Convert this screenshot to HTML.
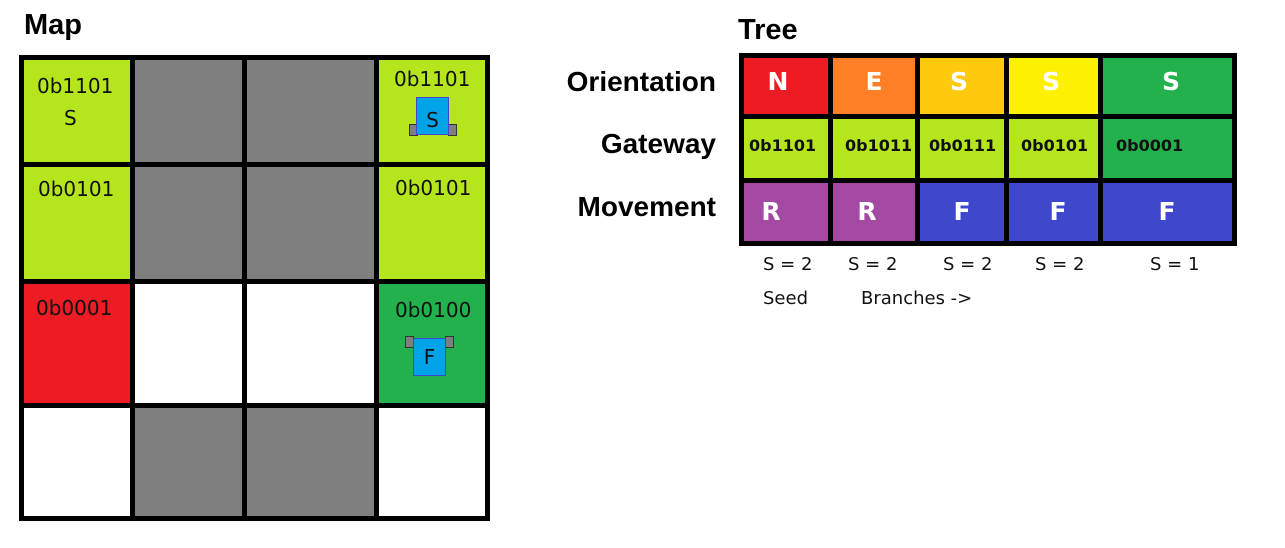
<!DOCTYPE html>
<html><head><style>
body{margin:0;width:1285px;height:548px;background:#fff;position:relative;overflow:hidden;font-family:"Liberation Sans",sans-serif}
.a{position:absolute}
.t{position:absolute;font-size:20px;color:#111;font-family:"DejaVu Sans","Liberation Sans",sans-serif}
.b{position:absolute;font-weight:bold;font-size:28px;color:#000}
.w{position:absolute;color:#fff;font-weight:bold;font-size:25px;text-align:center;font-family:"DejaVu Sans",sans-serif}
.g{position:absolute;font-weight:bold;font-size:16px;color:#111;font-family:"DejaVu Sans",sans-serif}
.s{position:absolute;font-size:18px;color:#111;font-family:"DejaVu Sans",sans-serif}
</style></head><body>
<div class="b" style="left:24px;top:9px;font-size:29px">Map</div>
<div class="b" style="left:738px;top:14px;font-size:29px">Tree</div>
<div class="a" style="left:19px;top:55px;width:471px;height:466px;background:#000"></div>
<div class="a" style="left:24px;top:60px;width:106px;height:102px;background:#b5e61d"></div>
<div class="a" style="left:135px;top:60px;width:107px;height:102px;background:#7f7f7f"></div>
<div class="a" style="left:247px;top:60px;width:127px;height:102px;background:#7f7f7f"></div>
<div class="a" style="left:379px;top:60px;width:106px;height:102px;background:#b5e61d"></div>
<div class="a" style="left:24px;top:167px;width:106px;height:112px;background:#b5e61d"></div>
<div class="a" style="left:135px;top:167px;width:107px;height:112px;background:#7f7f7f"></div>
<div class="a" style="left:247px;top:167px;width:127px;height:112px;background:#7f7f7f"></div>
<div class="a" style="left:379px;top:167px;width:106px;height:112px;background:#b5e61d"></div>
<div class="a" style="left:24px;top:284px;width:106px;height:119px;background:#ed1c24"></div>
<div class="a" style="left:135px;top:284px;width:107px;height:119px;background:#fff"></div>
<div class="a" style="left:247px;top:284px;width:127px;height:119px;background:#fff"></div>
<div class="a" style="left:379px;top:284px;width:106px;height:119px;background:#22b14c"></div>
<div class="a" style="left:24px;top:408px;width:106px;height:108px;background:#fff"></div>
<div class="a" style="left:135px;top:408px;width:107px;height:108px;background:#7f7f7f"></div>
<div class="a" style="left:247px;top:408px;width:127px;height:108px;background:#7f7f7f"></div>
<div class="a" style="left:379px;top:408px;width:106px;height:108px;background:#fff"></div>
<div class="t" style="left:37px;top:74px">0b1101</div>
<div class="t" style="left:64px;top:106px">S</div>
<div class="t" style="left:394px;top:67px">0b1101</div>
<div class="t" style="left:38px;top:177px">0b0101</div>
<div class="t" style="left:395px;top:176px">0b0101</div>
<div class="t" style="left:36px;top:296px">0b0001</div>
<div class="t" style="left:395px;top:298px">0b0100</div>
<div class="a" style="left:409px;top:124px;width:7px;height:10px;background:#7f7f7f;border:1px solid #333"></div>
<div class="a" style="left:448px;top:124px;width:7px;height:10px;background:#7f7f7f;border:1px solid #333"></div>
<div class="a" style="left:416px;top:97px;width:31px;height:36px;background:#00a2e8;border:1px solid #3f48cc;text-align:center;font-size:20px;line-height:44px;color:#111;font-family:'DejaVu Sans',sans-serif">S</div>
<div class="a" style="left:405px;top:336px;width:7px;height:10px;background:#7f7f7f;border:1px solid #333"></div>
<div class="a" style="left:445px;top:336px;width:7px;height:10px;background:#7f7f7f;border:1px solid #333"></div>
<div class="a" style="left:413px;top:338px;width:31px;height:36px;background:#00a2e8;border:1px solid #3f48cc;text-align:center;font-size:20px;line-height:36px;color:#111;font-family:'DejaVu Sans',sans-serif">F</div>
<div class="b" style="left:500px;width:216px;text-align:right;top:66px">Orientation</div>
<div class="b" style="left:500px;width:216px;text-align:right;top:128px">Gateway</div>
<div class="b" style="left:500px;width:216px;text-align:right;top:191px">Movement</div>
<div class="a" style="left:739px;top:53px;width:498px;height:193px;background:#000"></div>
<div class="a" style="left:744px;top:58px;width:84px;height:56px;background:#ed1c24"></div>
<div class="a" style="left:833px;top:58px;width:82px;height:56px;background:#ff7f27"></div>
<div class="a" style="left:920px;top:58px;width:84px;height:56px;background:#ffc90e"></div>
<div class="a" style="left:1009px;top:58px;width:89px;height:56px;background:#fff200"></div>
<div class="a" style="left:1103px;top:58px;width:129px;height:56px;background:#22b14c"></div>
<div class="a" style="left:744px;top:119px;width:84px;height:59px;background:#b5e61d"></div>
<div class="a" style="left:833px;top:119px;width:82px;height:59px;background:#b5e61d"></div>
<div class="a" style="left:920px;top:119px;width:84px;height:59px;background:#b5e61d"></div>
<div class="a" style="left:1009px;top:119px;width:89px;height:59px;background:#b5e61d"></div>
<div class="a" style="left:1103px;top:119px;width:129px;height:59px;background:#22b14c"></div>
<div class="a" style="left:744px;top:183px;width:84px;height:58px;background:#a349a4"></div>
<div class="a" style="left:833px;top:183px;width:82px;height:58px;background:#a349a4"></div>
<div class="a" style="left:920px;top:183px;width:84px;height:58px;background:#3f48cc"></div>
<div class="a" style="left:1009px;top:183px;width:89px;height:58px;background:#3f48cc"></div>
<div class="a" style="left:1103px;top:183px;width:129px;height:58px;background:#3f48cc"></div>
<div class="w" style="left:758px;width:40px;top:67px">N</div>
<div class="w" style="left:854px;width:40px;top:67px">E</div>
<div class="w" style="left:939px;width:40px;top:67px">S</div>
<div class="w" style="left:1031px;width:40px;top:67px">S</div>
<div class="w" style="left:1151px;width:40px;top:67px">S</div>
<div class="g" style="left:749px;top:136px">0b1101</div>
<div class="g" style="left:845px;top:136px">0b1011</div>
<div class="g" style="left:929px;top:136px">0b0111</div>
<div class="g" style="left:1021px;top:136px">0b0101</div>
<div class="g" style="left:1116px;top:136px">0b0001</div>
<div class="w" style="left:751px;width:40px;top:197px">R</div>
<div class="w" style="left:847px;width:40px;top:197px">R</div>
<div class="w" style="left:942px;width:40px;top:197px">F</div>
<div class="w" style="left:1038px;width:40px;top:197px">F</div>
<div class="w" style="left:1147px;width:40px;top:197px">F</div>
<div class="s" style="left:763px;top:254px">S = 2</div>
<div class="s" style="left:848px;top:254px">S = 2</div>
<div class="s" style="left:943px;top:254px">S = 2</div>
<div class="s" style="left:1035px;top:254px">S = 2</div>
<div class="s" style="left:1150px;top:254px">S = 1</div>
<div class="s" style="left:763px;top:288px">Seed</div>
<div class="s" style="left:861px;top:288px">Branches -&gt;</div>
</body></html>
